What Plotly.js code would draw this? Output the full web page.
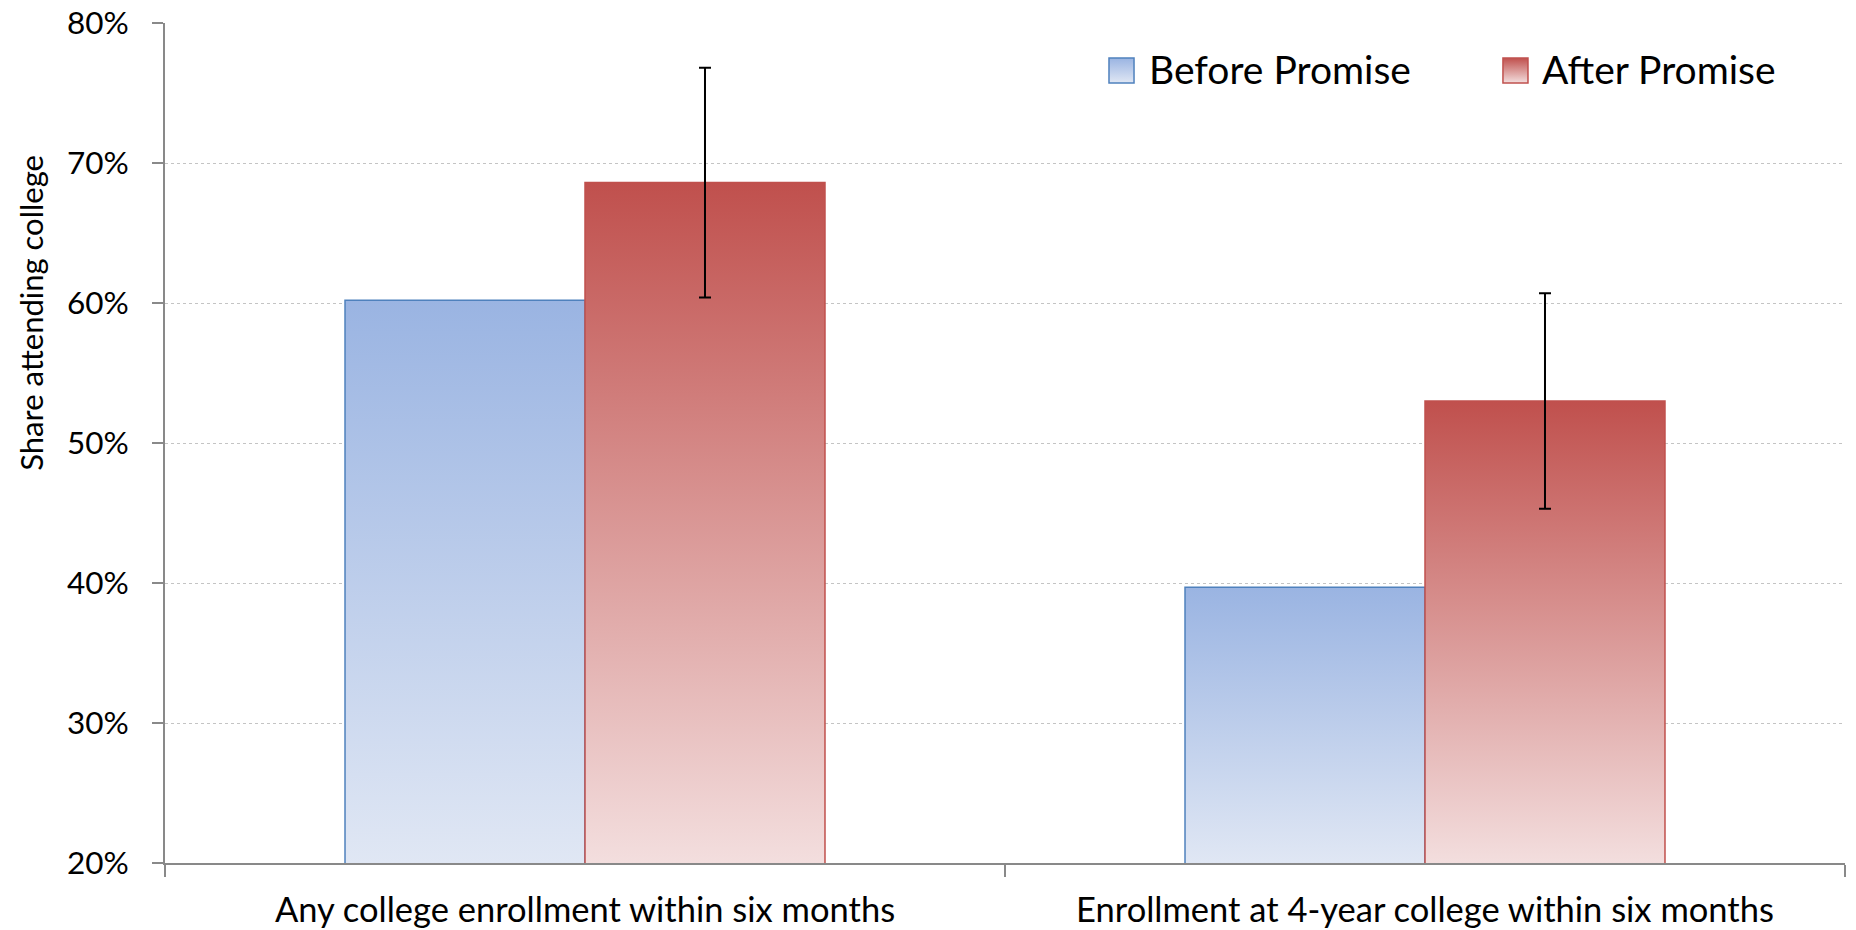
<!DOCTYPE html>
<html>
<head>
<meta charset="utf-8">
<script src="https://cdn.plot.ly/plotly-3.0.1.min.js"></script>
<style>
html,body{margin:0;padding:0;background:#fff;}
#chart{width:1856px;height:930px;}
</style>
</head>
<body>
<div id="chart"></div>
<script>
const categories = ["Any college enrollment within six months", "Enrollment at 4-year college within six months"];
const seriesNames = ["Before Promise", "After Promise"];
const beforeValues = [60.2, 39.7];
const afterValues = [68.6, 53.0];
const afterErrors = [8.2, 7.7];
const yTickValues = [20, 30, 40, 50, 60, 70, 80];
const yTickLabels = ["20%", "30%", "40%", "50%", "60%", "70%", "80%"];
const yAxisTitle = "Share attending college";

const FONT = "Lato, 'Open Sans', sans-serif";
const LINE_COLORS = ["#4F81BD", "#C0504D"];
const GRAD = [
  {top: "#9ab4e2", bottom: "#e0e7f4"},
  {top: "#c0504d", bottom: "#f3dede"}
];

const traces = [
  {
    type: "bar",
    name: seriesNames[0],
    x: categories,
    y: beforeValues,
    marker: {color: "#b9cbea", line: {color: LINE_COLORS[0], width: 1.5}},
    hoverinfo: "skip"
  },
  {
    type: "bar",
    name: seriesNames[1],
    x: categories,
    y: afterValues,
    marker: {color: "#d98c8a", line: {color: LINE_COLORS[1], width: 1.5}},
    error_y: {type: "data", array: afterErrors, visible: true, color: "#000000", thickness: 2, width: 6},
    hoverinfo: "skip"
  }
];

// custom legend (boxes + labels) placed in paper coordinates
const legendBoxX = [0.5619, 0.7964];
const legendBoxW = 0.0149;
const legendBoxY = [0.9286, 0.9583];
const legendTextX = [0.5845, 0.8185];
const legendTextY = 0.9457;

const shapes = seriesNames.map((n, i) => ({
  type: "rect", xref: "paper", yref: "paper", layer: "above",
  x0: legendBoxX[i], x1: legendBoxX[i] + legendBoxW,
  y0: legendBoxY[0], y1: legendBoxY[1],
  fillcolor: i === 0 ? "#c0d0ec" : "#d98c8a",
  line: {color: LINE_COLORS[i], width: 1.5}
}));

const annotations = seriesNames.map((n, i) => ({
  text: n, xref: "paper", yref: "paper",
  x: legendTextX[i], y: legendTextY,
  xanchor: "left", yanchor: "middle", showarrow: false,
  font: {family: FONT, size: 39, color: "#000000"}
}));
annotations.push({
  text: yAxisTitle,
  xref: "paper", yref: "paper",
  x: -0.0798, y: 0.655,
  xanchor: "center", yanchor: "middle",
  textangle: -90,
  showarrow: false,
  font: {family: FONT, size: 31, color: "#000000"}
});

const layout = {
  width: 1856,
  height: 930,
  margin: {l: 165, r: 11, t: 23, b: 67, autoexpand: false},
  paper_bgcolor: "#ffffff",
  plot_bgcolor: "#ffffff",
  font: {family: FONT, color: "#000000"},
  barmode: "group",
  bargap: 0.4286,
  bargroupgap: 0,
  showlegend: false,
  xaxis: {
    type: "category",
    showline: true,
    linecolor: "#898989",
    linewidth: 2,
    ticks: "outside",
    tickson: "boundaries",
    ticklen: 12,
    tickwidth: 2,
    tickcolor: "#898989",
    tickfont: {family: FONT, size: 34.5, color: "#000000"},
    ticklabelstandoff: 16,
    showgrid: false,
    zeroline: false
  },
  yaxis: {
    range: [20, 80],
    tickvals: yTickValues,
    ticktext: yTickLabels,
    showline: true,
    linecolor: "#898989",
    linewidth: 2,
    ticks: "outside",
    ticklen: 11,
    tickwidth: 2,
    tickcolor: "#898989",
    tickfont: {family: FONT, size: 31.5, color: "#000000"},
    ticklabelstandoff: 17,
    showgrid: true,
    gridcolor: "#c4c4c4",
    gridwidth: 1,
    griddash: "dot",
    zeroline: false
  },
  shapes: shapes,
  annotations: annotations
};

const SVGNS = "http://www.w3.org/2000/svg";
function makeGradient(defs, id, top, bottom, y1, y2) {
  let lg = defs.querySelector("#" + id);
  if (lg) lg.remove();
  lg = document.createElementNS(SVGNS, "linearGradient");
  lg.setAttribute("id", id);
  if (y1 === undefined) {
    lg.setAttribute("x1", "0"); lg.setAttribute("y1", "0");
    lg.setAttribute("x2", "0"); lg.setAttribute("y2", "1");
  } else {
    lg.setAttribute("gradientUnits", "userSpaceOnUse");
    lg.setAttribute("x1", "0"); lg.setAttribute("y1", String(y1));
    lg.setAttribute("x2", "0"); lg.setAttribute("y2", String(y2));
  }
  const s1 = document.createElementNS(SVGNS, "stop");
  s1.setAttribute("offset", "0"); s1.setAttribute("stop-color", top);
  const s2 = document.createElementNS(SVGNS, "stop");
  s2.setAttribute("offset", "1"); s2.setAttribute("stop-color", bottom);
  lg.appendChild(s1); lg.appendChild(s2);
  defs.appendChild(lg);
}

function applyGradients(gd) {
  const svg = gd.querySelector("svg.main-svg");
  if (!svg) return;
  let defs = svg.querySelector("defs");
  if (!defs) {
    defs = document.createElementNS(SVGNS, "defs");
    svg.insertBefore(defs, svg.firstChild);
  }
  const plotH = gd._fullLayout._size.h;
  const barTraces = gd.querySelectorAll(".barlayer .trace.bars");
  barTraces.forEach((t, i) => {
    t.querySelectorAll(".point path").forEach((p, j) => {
      const bb = p.getBBox();
      const id = "barGrad_" + i + "_" + j;
      makeGradient(defs, id, GRAD[i].top, GRAD[i].bottom, bb.y, plotH);
      p.style.fill = "url(#" + id + ")";
      p.style.fillOpacity = 1;
    });
  });
  gd.querySelectorAll(".shapelayer path").forEach(p => {
    const idx = Number(p.getAttribute("data-index"));
    if (isNaN(idx) || idx > 1) return;
    const id = "legGrad_" + idx;
    makeGradient(defs, id, GRAD[idx].top, GRAD[idx].bottom);
    p.style.fill = "url(#" + id + ")";
    p.style.fillOpacity = 1;
  });
}

const gd = document.getElementById("chart");
Plotly.newPlot(gd, traces, layout, {displayModeBar: false, staticPlot: true}).then(() => {
  applyGradients(gd);
  gd.on("plotly_afterplot", () => applyGradients(gd));
});
</script>
</body>
</html>
